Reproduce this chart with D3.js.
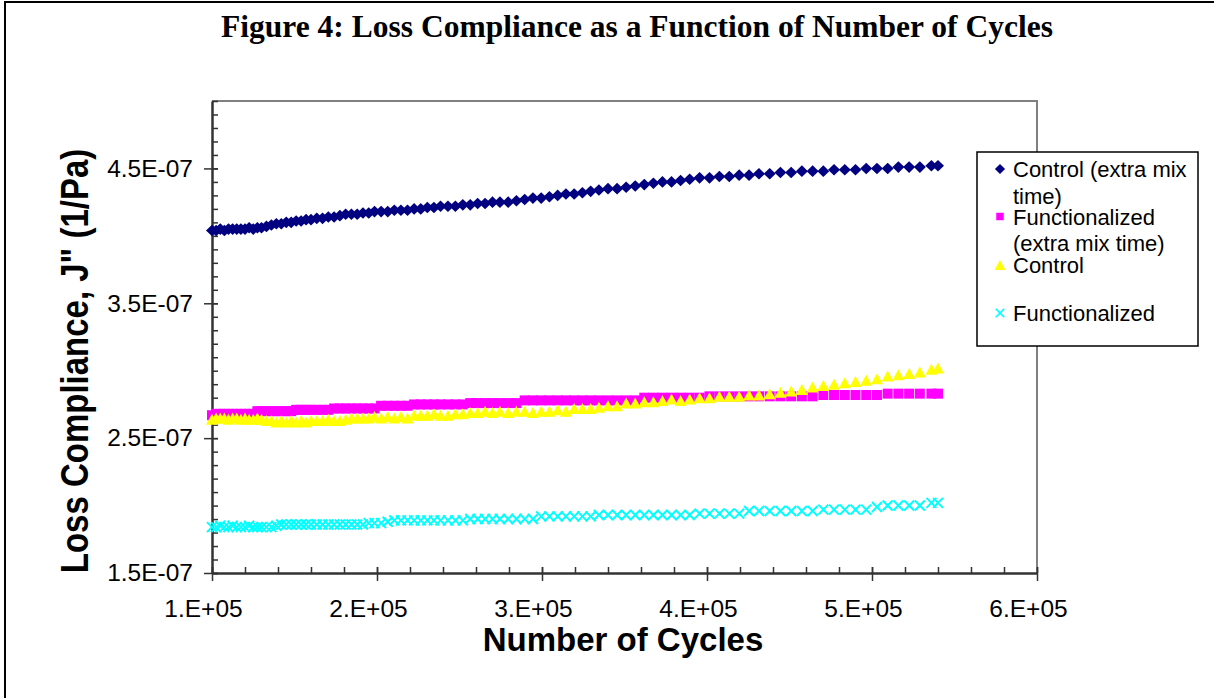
<!DOCTYPE html>
<html>
<head>
<meta charset="utf-8">
<script src="https://cdn.jsdelivr.net/npm/d3@7"></script>
<style>
  body { margin: 0; background: #fff; }
  text { font-family: "Liberation Sans", Arial, sans-serif; }
</style>
</head>
<body>
<script>
// Number of cycles (thousands)
var cycles = [
  100, 102.5, 105, 107.5, 110, 112.5, 115, 117.5, 120, 122.5, 125, 127.5, 130,
  133, 136, 139, 142, 145, 148, 151, 154, 157, 160,
  163.5, 167, 170.5, 174, 177.5, 181, 184.5, 188, 191.5, 195, 198.5,
  202.5, 206.5, 210.5, 214.5, 218.5, 222.5, 226.5, 230.5, 234.5, 238.5,
  243, 247.5, 252, 256.5, 261, 265.5, 270, 274.5,
  279.5, 284.5, 289.5, 294.5, 299.5, 304.5, 309.5, 314.5, 319.5, 324.5, 329.5, 334.5,
  340, 345.5, 351, 356.5, 362, 367.5, 373, 378.5, 384, 389.5,
  395.5, 401.5, 407.5, 413.5, 419.5, 425.5, 431.5,
  438, 444.5, 451, 457.5, 464, 470.5, 477, 483.5, 490, 496.5, 503, 509.5, 516, 522.5, 529, 536, 540
];

// Loss compliance J'' (units of 1E-07 1/Pa)
var controlExtra = [
  4.04, 4.04, 4.05, 4.04, 4.05, 4.05, 4.05, 4.05, 4.05, 4.06, 4.05, 4.06, 4.06,
  4.07, 4.08, 4.09, 4.09, 4.10, 4.10, 4.11, 4.11, 4.12, 4.12,
  4.13, 4.13, 4.14, 4.14, 4.15, 4.16, 4.16, 4.16, 4.17, 4.17, 4.18,
  4.18, 4.18, 4.19, 4.19, 4.19, 4.20, 4.20, 4.21, 4.21, 4.22,
  4.22, 4.22, 4.23, 4.23, 4.24, 4.24, 4.25, 4.25,
  4.25, 4.26, 4.27, 4.28, 4.28, 4.29, 4.30, 4.31, 4.31, 4.32, 4.33, 4.34,
  4.35, 4.35, 4.36, 4.37, 4.38, 4.39, 4.40, 4.40, 4.41, 4.42,
  4.43, 4.43, 4.44, 4.44, 4.45, 4.45, 4.46,
  4.46, 4.47, 4.47, 4.48, 4.48, 4.48, 4.49, 4.49, 4.49, 4.50, 4.50, 4.50, 4.51, 4.51, 4.51, 4.52, 4.52
];

var functExtra = [
  2.67, 2.68, 2.68, 2.68, 2.68, 2.68, 2.68, 2.68, 2.68, 2.68, 2.68, 2.70, 2.70,
  2.70, 2.70, 2.70, 2.70, 2.70, 2.70, 2.71, 2.71, 2.71, 2.71,
  2.71, 2.71, 2.71, 2.72, 2.72, 2.72, 2.72, 2.72, 2.72, 2.72, 2.72,
  2.74, 2.74, 2.74, 2.74, 2.74, 2.75, 2.75, 2.75, 2.75, 2.75,
  2.75, 2.75, 2.75, 2.76, 2.76, 2.76, 2.76, 2.76,
  2.76, 2.76, 2.78, 2.78, 2.78, 2.78, 2.78, 2.78, 2.78, 2.78, 2.78, 2.78,
  2.78, 2.78, 2.78, 2.78, 2.80, 2.80, 2.80, 2.80, 2.80, 2.80,
  2.80, 2.81, 2.81, 2.81, 2.81, 2.81, 2.81,
  2.81, 2.81, 2.81, 2.81, 2.81, 2.82, 2.82, 2.82, 2.82, 2.82, 2.82, 2.83, 2.83, 2.83, 2.83, 2.83, 2.83
];

var control = [
  2.64, 2.65, 2.65, 2.65, 2.64, 2.65, 2.65, 2.64, 2.65, 2.64, 2.64, 2.65, 2.64,
  2.63, 2.63, 2.62, 2.63, 2.62, 2.63, 2.62, 2.63, 2.62, 2.63,
  2.63, 2.63, 2.64, 2.63, 2.63, 2.64, 2.65, 2.65, 2.65, 2.65, 2.66,
  2.65, 2.66, 2.65, 2.66, 2.65, 2.67, 2.67, 2.67, 2.68, 2.67,
  2.67, 2.68, 2.68, 2.69, 2.69, 2.70, 2.69, 2.70,
  2.69, 2.70, 2.70, 2.69, 2.70, 2.70, 2.71, 2.70, 2.72, 2.72, 2.72, 2.73,
  2.74, 2.74, 2.76, 2.76, 2.77, 2.77, 2.78, 2.79, 2.78, 2.79,
  2.80, 2.80, 2.81, 2.81, 2.81, 2.82, 2.82,
  2.83, 2.84, 2.85, 2.86, 2.88, 2.89, 2.90, 2.91, 2.92, 2.93, 2.94, 2.96, 2.97, 2.98, 2.99, 3.01, 3.02
];

var funct = [
  1.84, 1.84, 1.85, 1.84, 1.84, 1.85, 1.84, 1.84, 1.84, 1.85, 1.84, 1.84, 1.84,
  1.84, 1.84, 1.85, 1.86, 1.86, 1.86, 1.86, 1.86, 1.86, 1.86,
  1.86, 1.86, 1.86, 1.86, 1.86, 1.86, 1.86, 1.86, 1.86, 1.87, 1.87,
  1.87, 1.88, 1.89, 1.89, 1.89, 1.89, 1.89, 1.89, 1.89, 1.89,
  1.89, 1.89, 1.89, 1.90, 1.90, 1.90, 1.90, 1.90,
  1.90, 1.90, 1.90, 1.90, 1.92, 1.92, 1.92, 1.92, 1.92, 1.92, 1.92, 1.93,
  1.93, 1.93, 1.93, 1.93, 1.93, 1.93, 1.93, 1.93, 1.93, 1.93,
  1.94, 1.94, 1.94, 1.94, 1.94, 1.96, 1.96,
  1.96, 1.96, 1.96, 1.96, 1.96, 1.97, 1.97, 1.97, 1.97, 1.97, 1.99, 2.00, 2.00, 2.00, 2.00, 2.02, 2.02
];

var seriesNames = ["Control (extra mix time)", "Functionalized (extra mix time)", "Control", "Functionalized"];
var xTicks = [100, 200, 300, 400, 500, 600];
var yTicks = [1.5, 2.5, 3.5, 4.5];

var width = 1214, height = 698;
var plot = {left: 212, right: 1037, top: 101, bottom: 573};

var svg = d3.select("body").append("svg")
    .attr("width", width)
    .attr("height", height);

// outer frame
svg.append("rect")
    .attr("x", 5).attr("y", 2)
    .attr("width", 1400).attr("height", 900)
    .attr("fill", "#fff")
    .attr("stroke", "#000")
    .attr("stroke-width", 2);

var x = d3.scaleLinear().domain([100, 600]).range([plot.left, plot.right]);
var y = d3.scaleLinear().domain([1.5, 5.0]).range([plot.bottom, plot.top]);

// plot area border (top and right, gray)
svg.append("path")
    .attr("d", "M" + plot.left + "," + plot.top + "H" + plot.right + "V" + plot.bottom)
    .attr("fill", "none")
    .attr("stroke", "#808080")
    .attr("stroke-width", 2);

//Minor ticks
svg.append("g")
    .attr("transform", "translate(" + plot.left + ",0)")
    .call(d3.axisLeft(y).tickValues(d3.range(15, 51).map(function(d) { return d / 10; }))
        .tickSize(-6).tickFormat(""))
    .call(function(g) { g.select(".domain").remove(); })
    .selectAll("line").attr("stroke", "#333").attr("stroke-width", 1.5);

svg.append("g")
    .attr("transform", "translate(0," + plot.bottom + ")")
    .call(d3.axisBottom(x).tickValues(d3.range(100, 601, 20)).tickSize(-6).tickFormat(""))
    .call(function(g) { g.select(".domain").remove(); })
    .selectAll("line").attr("stroke", "#333").attr("stroke-width", 1.5);

//Major axes
var yAxis = svg.append("g")
    .attr("transform", "translate(" + plot.left + ",0)")
    .call(d3.axisLeft(y).tickValues(yTicks).tickSizeInner(8).tickSizeOuter(0).tickPadding(11)
        .tickFormat(function(d) { return d.toFixed(1) + "E-07"; }));
yAxis.selectAll(".tick line").attr("x1", 6);

var xAxis = svg.append("g")
    .attr("transform", "translate(0," + plot.bottom + ")")
    .call(d3.axisBottom(x).tickValues(xTicks).tickSizeInner(8).tickSizeOuter(0).tickPadding(19)
        .tickFormat(function(d) { return (d / 100) + ".E+05"; }));
xAxis.selectAll(".tick line").attr("y1", -6);

[yAxis, xAxis].forEach(function(g) {
  g.select(".domain").attr("stroke", "#333").attr("stroke-width", 2.5);
  g.selectAll(".tick line").attr("stroke", "#333").attr("stroke-width", 1.5);
  g.selectAll("text")
      .attr("font-family", "'Liberation Sans', Arial, sans-serif")
      .attr("font-size", "24.5px")
      .attr("fill", "#000");
});
xAxis.selectAll("text").attr("dx", -9);

//Marker shapes
function marker(kind) {
  if (kind === "diamond") return "M0,-5.8L6,0L0,5.8L-6,0Z";
  if (kind === "square") return "M-5,-5H5V5H-5Z";
  if (kind === "triangle") return "M0,-5.5L6,5.5L-6,5.5Z";
  return "M-5,-5L5,5M5,-5L-5,5";
}

var series = [
  {name: seriesNames[0], values: controlExtra, color: "#000080", kind: "diamond"},
  {name: seriesNames[1], values: functExtra, color: "#FF00FF", kind: "square"},
  {name: seriesNames[2], values: control, color: "#FFFF00", kind: "triangle"},
  {name: seriesNames[3], values: funct, color: "#00FFFF", kind: "x"}
];

series.forEach(function(s) {
  svg.append("g")
      .selectAll("path")
      .data(s.values)
      .enter().append("path")
      .attr("transform", function(d, i) { return "translate(" + x(cycles[i]) + "," + y(d) + ")"; })
      .attr("d", marker(s.kind))
      .attr("fill", s.kind === "x" ? "none" : s.color)
      .attr("stroke", s.kind === "x" ? s.color : "none")
      .attr("stroke-width", 2);
});

//Title
svg.append("text")
    .attr("x", 637).attr("y", 37)
    .attr("text-anchor", "middle")
    .style("font-family", "'Liberation Serif', 'Times New Roman', serif")
    .attr("font-weight", "bold")
    .attr("font-size", "31.5px")
    .text("Figure 4: Loss Compliance as a Function of Number of Cycles");

//Axis titles
svg.append("text")
    .attr("x", 623).attr("y", 651)
    .attr("text-anchor", "middle")
    .attr("font-weight", "bold")
    .attr("font-size", "33px")
    .text("Number of Cycles");

svg.append("text")
    .attr("transform", "translate(88,361) rotate(-90) scale(1,1.2)")
    .attr("text-anchor", "middle")
    .attr("font-weight", "bold")
    .attr("font-size", "33px")
    .text("Loss Compliance, J\" (1/Pa)");

//Legend
var legend = svg.append("g");
legend.append("rect")
    .attr("x", 977).attr("y", 152)
    .attr("width", 221).attr("height", 194)
    .attr("fill", "#fff")
    .attr("stroke", "#000")
    .attr("stroke-width", 1.5);

var legendLines = [
  {lines: ["Control (extra mix", "time)"], cy: 169},
  {lines: ["Functionalized", "(extra mix time)"], cy: 216.5},
  {lines: ["Control"], cy: 265},
  {lines: ["Functionalized"], cy: 313}
];
var legendScale = [0.85, 0.75, 0.9, 0.85];

legendLines.forEach(function(l, i) {
  var s = series[i];
  legend.append("path")
      .attr("transform", "translate(1000," + l.cy + ") scale(" + legendScale[i] + ")")
      .attr("d", marker(s.kind))
      .attr("fill", s.kind === "x" ? "none" : s.color)
      .attr("stroke", s.kind === "x" ? s.color : "none")
      .attr("stroke-width", 2);
  l.lines.forEach(function(t, j) {
    legend.append("text")
        .attr("x", 1013)
        .attr("y", l.cy + 8 + j * 26.5)
        .attr("font-size", "22px")
        .text(t);
  });
});
</script>
</body>
</html>
